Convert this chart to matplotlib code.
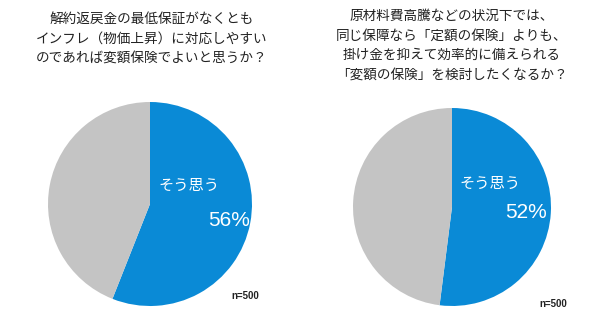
import matplotlib
matplotlib.use('Agg')
import matplotlib.pyplot as plt

plt.rcParams['font.family'] = ['Noto Sans CJK JP', 'DejaVu Sans']

titles = [
    "解約返戻金の最低保証がなくとも\nインフレ（物価上昇）に対応しやすい\nのであれば変額保険でよいと思うか？",
    "原材料費高騰などの状況下では、\n同じ保障なら「定額の保険」よりも、\n掛け金を抑えて効率的に備えられる\n「変額の保険」を検討したくなるか？",
]
agree_pct = [56, 52]
agree_label = "そう思う"
n_label = "n=500"

BLUE = '#0a8ad6'
GRAY = '#c4c4c4'
W, H = 602, 319

fig = plt.figure(figsize=(W/100, H/100), dpi=100)

# pie centers / radii in pixels (from top-left)
pies = [(150, 204, 102), (452, 207, 99)]
title_pos = [(152, 12), (452, 9)]
n_pos = [(259, 296), (567, 304)]
lbl_pos = [((189, 185), (229, 220)), ((490, 183), (526, 213))]

for i, pct in enumerate(agree_pct):
    cx, cy, r = pies[i]
    ax = fig.add_axes([(cx-r)/W, (H-cy-r)/H, 2*r/W, 2*r/H])
    ax.pie([pct, 100-pct], colors=[BLUE, GRAY], startangle=90, counterclock=False,
           radius=1, wedgeprops=dict(linewidth=0))
    ax.set_xlim(-1, 1); ax.set_ylim(-1, 1)
    ax.axis('off')

    tx, ty = title_pos[i]
    fig.text(tx/W, 1-ty/H, titles[i], ha='center', va='top', fontsize=9.8,
             linespacing=1.5, color='#222222')
    (ax1, ay1), (ax2, ay2) = lbl_pos[i]
    fig.text(ax1/W, 1-ay1/H, agree_label, ha='center', va='center', fontsize=11, color='white')
    fig.text(ax2/W, 1-ay2/H, f"{pct}%", ha='center', va='center', fontsize=15,
             color='white', family=['Liberation Sans'])
    fig.text(n_pos[i][0]/W, 1-n_pos[i][1]/H, n_label, ha='right', va='center',
             fontsize=7, fontweight='bold', color='#222222', family=['Liberation Sans'])

fig.savefig('out.png', dpi=100)
